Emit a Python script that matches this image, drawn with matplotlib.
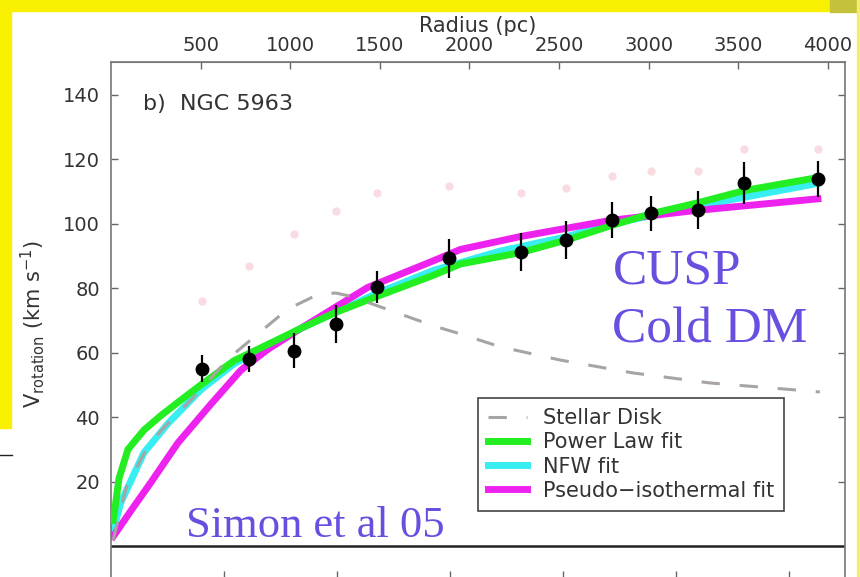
import numpy as np
import matplotlib.pyplot as plt
from matplotlib.patches import Rectangle

plt.rcParams['font.family'] = ['DejaVu Sans']
plt.rcParams['mathtext.default'] = 'regular'

# radius in arcsec (bottom axis), top axis converted to pc
PC_PER_ARCSEC = 63.0
pc_ticks = [500, 1000, 1500, 2000, 2500, 3000, 3500, 4000]
vel_ticks = [20, 40, 60, 80, 100, 120, 140]

# observed rotation curve (black points)
r_obs = [8.1, 12.2, 16.2, 19.9, 23.6, 29.9, 36.3, 40.3, 44.4, 47.8, 52.0, 56.1, 62.6]
v_obs = [55.0, 58.1, 60.6, 68.9, 80.4, 89.3, 91.2, 94.9, 101.1, 103.2, 104.2, 112.5, 113.8]
v_err = [4.2, 4.0, 5.5, 6.0, 5.0, 6.0, 6.0, 6.0, 5.5, 5.5, 6.0, 6.5, 5.5]
# faint pink points behind
v_pink = [76.0, 86.9, 96.8, 103.9, 109.4, 111.6, 109.4, 111.0, 114.7, 116.2, 116.2, 123.0, 123.0]

# stellar disk
r_disk = [0.2, 1.33, 2.92, 4.42, 7.96, 10.34, 13.0, 15.65, 18.3, 19.89, 21.22, 23.61,
          28.56, 30.95, 34.48, 39.79, 46.24, 53.05, 60.39, 62.78]
v_disk = [2, 18, 28.7, 35.8, 48.5, 58, 65.8, 73.5, 78, 78.5, 77.5, 74.5,
          68.3, 65.8, 61.8, 57.7, 53.7, 50.6, 48.5, 47.8]

# power law fit
r_pl = [0.2, 0.44, 0.71, 1.5, 2.92, 4.42, 6.45, 7.96, 10.88, 12.38, 16.8, 19.89,
        23.61, 28.56, 30.95, 36.25, 40.41, 44.39, 47.75, 52.0, 56.15, 62.6]
v_pl = [8, 14, 21, 30, 36, 40.5, 46, 50, 57.5, 60, 67.5, 72.5,
        77.5, 84, 87.5, 91, 95, 99.5, 103, 106.5, 110.3, 114.3]

# NFW fit
r_nfw = [0.2, 0.88, 2.92, 5.04, 7.96, 10.88, 16.8, 23.61, 28.56, 34.48, 40.41, 44.39, 52.0, 62.6]
v_nfw = [5, 13.6, 29, 38, 48.5, 56.5, 67.5, 78.5, 85.5, 91.5, 96, 100, 105.5, 112.5]

# pseudo-isothermal fit
r_iso = [0.2, 1.77, 3.54, 5.92, 8.84, 11.49, 12.2, 13.88, 16.8, 22.72, 28.56, 30.95,
         36.25, 44.21, 51.55, 62.6]
v_iso = [3, 11, 19.8, 32, 44, 54.5, 56.5, 61, 67.5, 80.2, 88.5, 92,
         96, 101, 104, 107.7]

fig = plt.figure(figsize=(8.6, 5.77), dpi=100)
fig.patch.set_facecolor('white')

# yellow slide background bits
fig.patches.append(Rectangle((0, 1 - 11/577), 1, 11/577, transform=fig.transFigure,
                             color='#f8f000', zorder=0))
fig.patches.append(Rectangle((0, 1 - 428/577), 11/860, 428/577, transform=fig.transFigure,
                             color='#f8f000', zorder=0))
fig.patches.append(Rectangle((830/860, 1 - 12/577), 30/860, 12/577, transform=fig.transFigure,
                             color='#c4c23c', zorder=0))
fig.patches.append(Rectangle((857/860, 0), 2/860, 1, transform=fig.transFigure,
                             color='#f4ee70', zorder=0))

ax = fig.add_axes([111/860, -1.4/577, 734/860, 516/577])
ax.set_xlim(0, 65)
ax.set_ylim(-10, 150)

ax.plot(r_obs, v_pink, 'o', color='#f8dce2', ms=6, mec='none', zorder=1)
l_nfw, = ax.plot(r_nfw, v_nfw, color='#38eef0', lw=5, label='NFW fit', zorder=2)
l_iso, = ax.plot(r_iso, v_iso, color='#ee22ee', lw=5, label='Pseudo\u2212isothermal fit', zorder=3)
l_pl, = ax.plot(r_pl, v_pl, color='#22ee22', lw=5, label='Power Law fit', zorder=4)
l_disk, = ax.plot(r_disk, v_disk, color='#a8a4a4', lw=2.2, dashes=(6, 6.5),
                  label='Stellar Disk', zorder=5)
ax.errorbar(r_obs, v_obs, yerr=v_err, fmt='o', color='black', ms=9,
            elinewidth=1.6, capsize=0, zorder=6)
ax.axhline(0, color='#222222', lw=1.8, zorder=1)

ax.set_xticks(np.arange(10, 65, 10))
ax.set_yticks(vel_ticks)
ax.tick_params(direction='in', length=5, width=1, colors='#666666', labelcolor='#333333',
               labelsize=14, right=True, top=False, labelbottom=False, pad=8)
for s in ax.spines.values():
    s.set_color('#777777')
    s.set_linewidth(1.2)

secax = ax.secondary_xaxis('top', functions=(lambda a: a * PC_PER_ARCSEC,
                                             lambda p: p / PC_PER_ARCSEC))
secax.set_xticks(pc_ticks)
secax.tick_params(direction='in', length=5, width=1, colors='#666666',
                  labelcolor='#333333', labelsize=14, pad=5)
secax.spines['top'].set_color('#777777')
secax.set_xlabel('Radius (pc)', fontsize=15, color='#333333', labelpad=3)

fig.text(33/860, 1 - 324/577, r'$V_{rotation}$ (km s$^{-1}$)', rotation=90,
         ha='center', va='center', fontsize=15, color='#333333')

ax.text(2.83, 137, 'b)  NGC 5963', fontsize=16, color='#333333', va='center')

serif = ['Liberation Serif', 'DejaVu Serif']
txt_color = '#6a4ee0'
ax.text(44.4, 81.3, 'CUSP', family=serif, fontsize=37, color=txt_color, va='baseline')
ax.text(44.4, 63.1, 'Cold DM', family=serif, fontsize=37, color=txt_color, va='baseline')
ax.text(6.63, 2.8, 'Simon et al 05', family=serif, fontsize=32, color=txt_color, va='baseline')

leg = ax.legend(handles=[l_disk, l_pl, l_nfw, l_iso], loc='upper left',
                bbox_to_anchor=(0.5, 0.35), fontsize=15, frameon=True, fancybox=False,
                framealpha=1, edgecolor='#444444', handlelength=1.83, handletextpad=0.77,
                labelspacing=0.2, borderpad=0.5, borderaxespad=0)
leg.get_frame().set_linewidth(1.2)
for t in leg.get_texts():
    t.set_color('#333333')

# small mark at the left edge of the slide
fig.add_artist(plt.Line2D([0, 12/860], [1 - 455/577, 1 - 455/577], color='#222222', lw=1))

fig.savefig('out.png', dpi=100)
